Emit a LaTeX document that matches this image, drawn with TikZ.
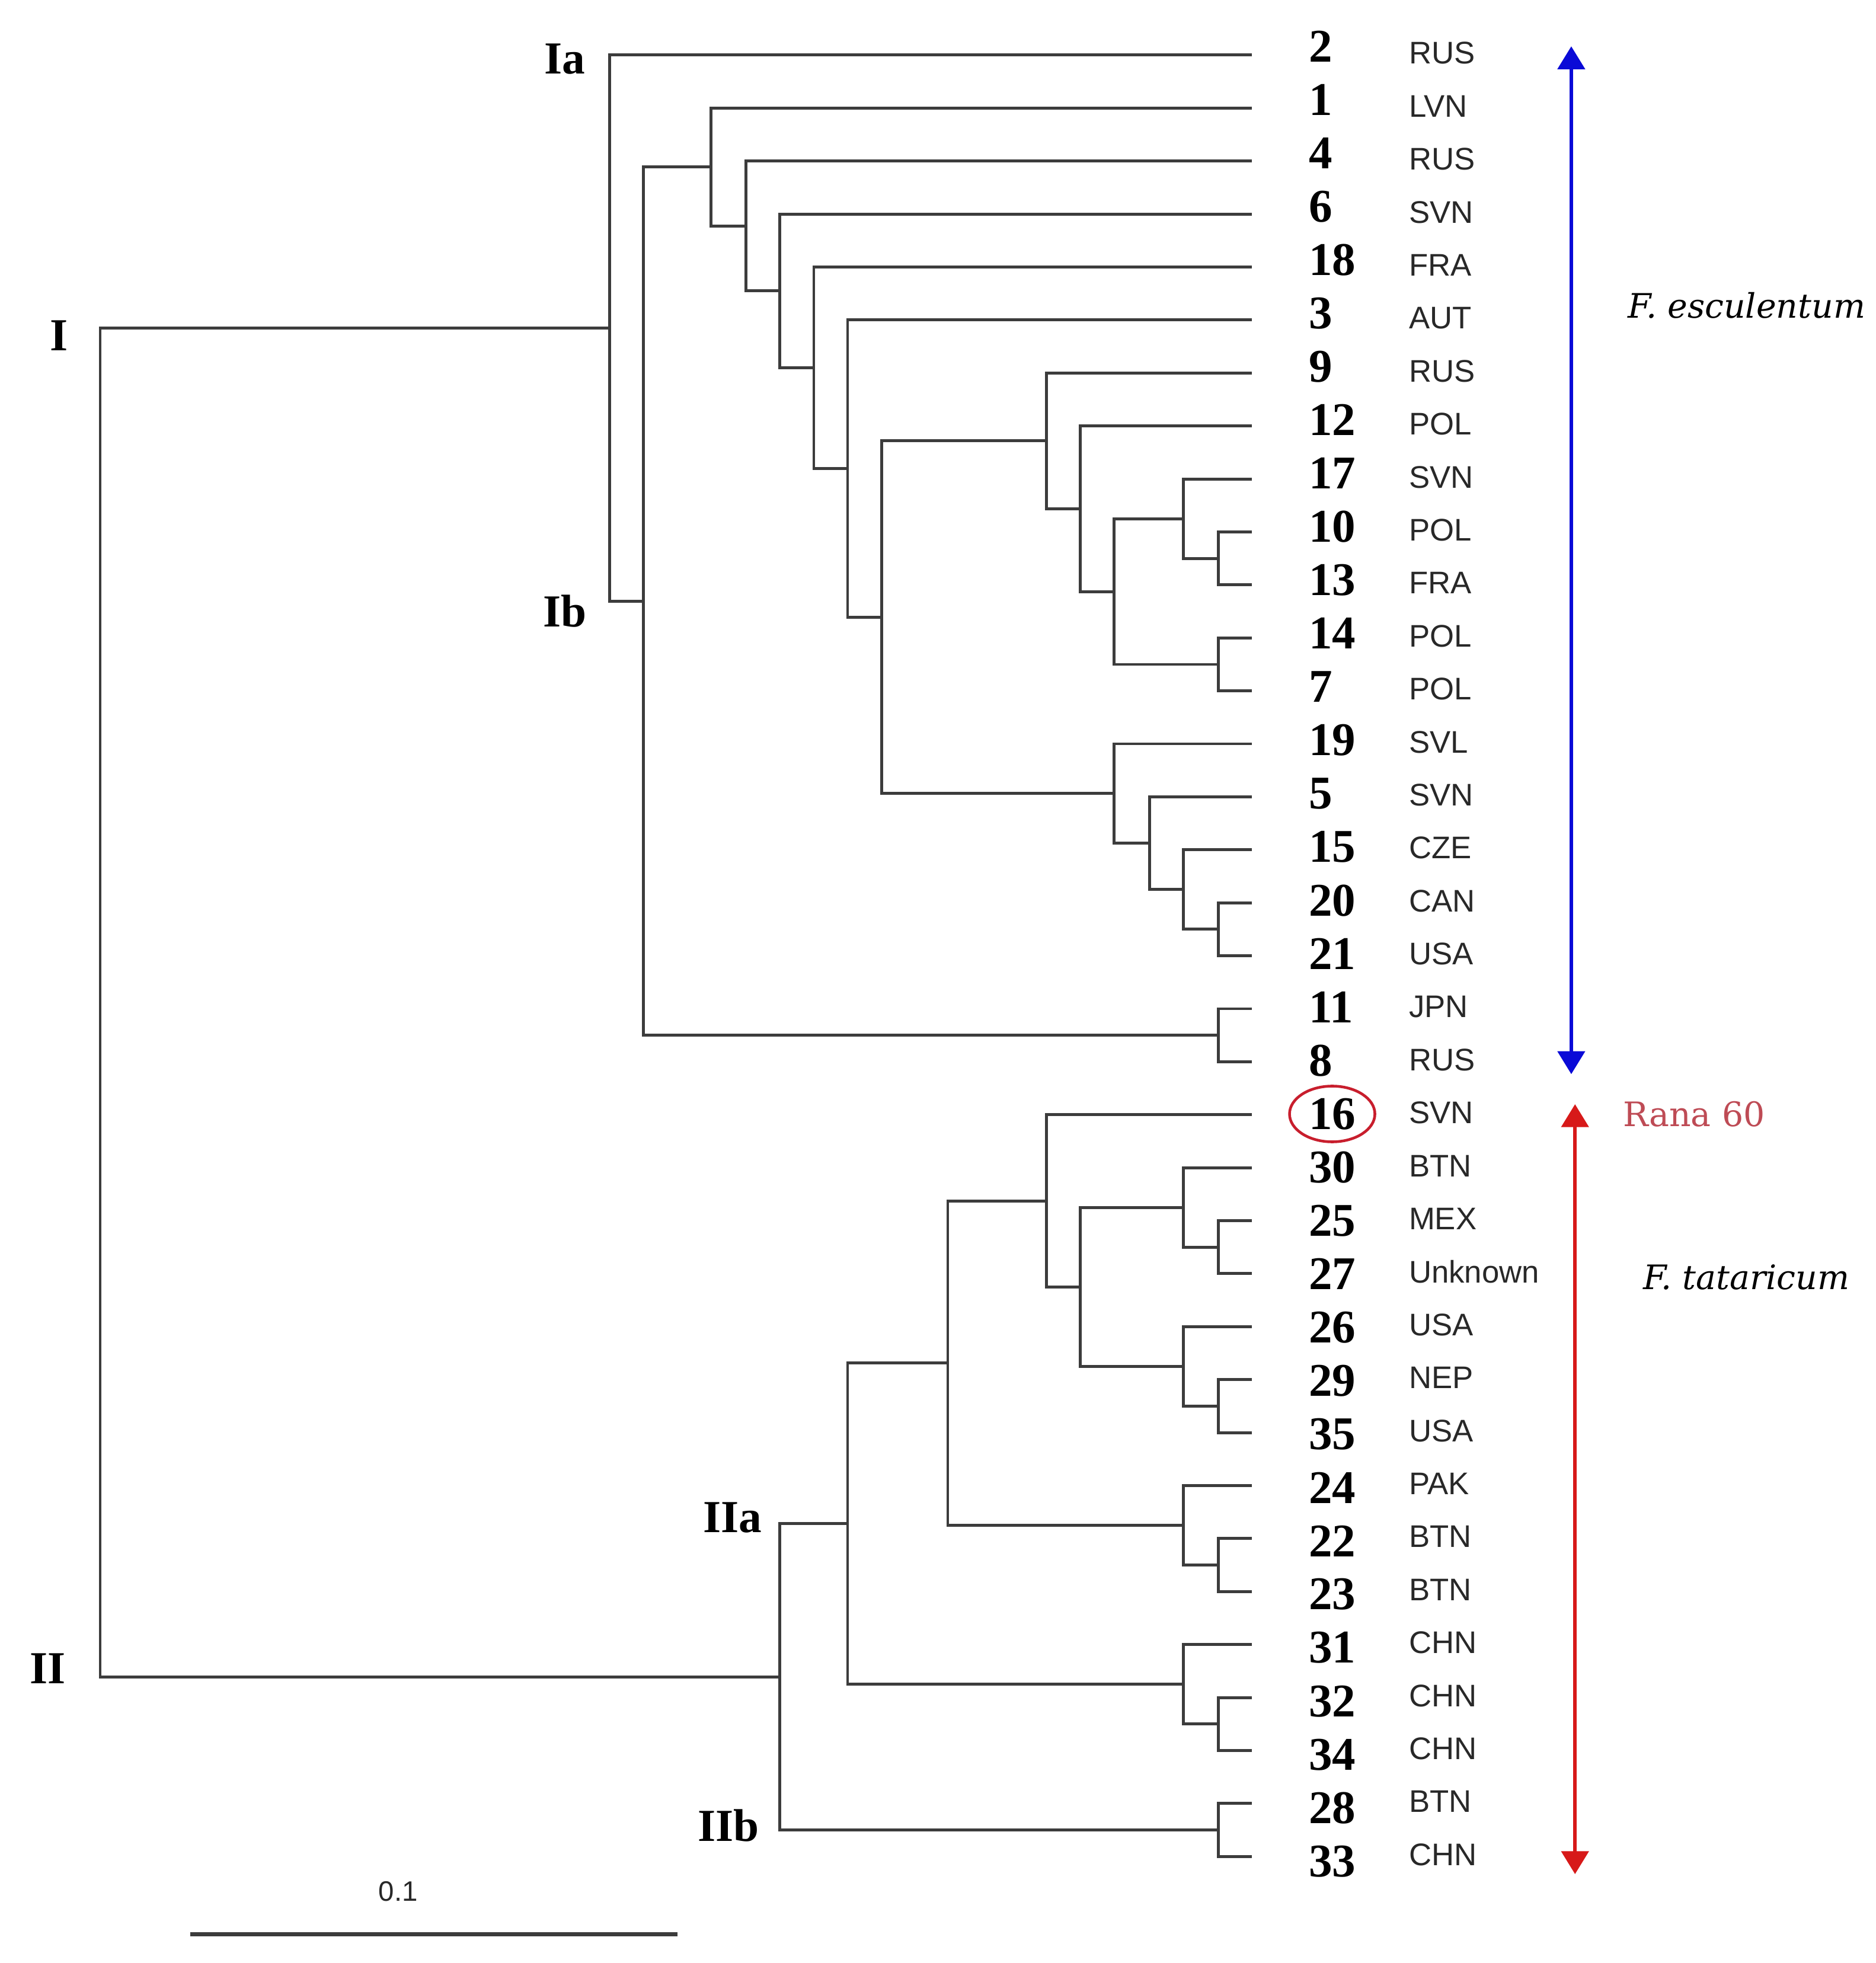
\documentclass[tikz,border=0pt]{standalone}
\usepackage{fontspec}
\setmainfont{Liberation Serif}
\setsansfont{Liberation Sans}
\newfontfamily\slabfont{DejaVu Serif}
\usetikzlibrary{arrows.meta}

\definecolor{treegray}{RGB}{60,60,60}
\definecolor{ctygray}{RGB}{40,40,40}
\definecolor{escblue}{RGB}{10,10,215}
\definecolor{tatred}{RGB}{215,25,25}
\definecolor{ranared}{RGB}{190,75,85}
\definecolor{ringred}{RGB}{200,30,45}

\begin{document}
\begin{tikzpicture}[x=0.2112mm, y=-0.2112mm,
    branch/.style={line width=1.4pt, draw=treegray},
    numlabel/.style={anchor=west, inner sep=0pt, font=\fontsize{22.5}{24}\selectfont\bfseries},
    ctylabel/.style={anchor=west, inner sep=0pt, text=ctygray, font=\sffamily\fontsize{15}{17}\selectfont},
    cladelabel/.style={inner sep=0pt, font=\fontsize{22}{24}\selectfont\bfseries},
    species/.style={anchor=west, inner sep=0pt, font=\slabfont\itshape\fontsize{16.2}{18}\selectfont},
    spanarrow/.style={line width=1.7pt, {Triangle[width=13pt,length=11pt]}-{Triangle[width=13pt,length=11pt]}}]
\useasboundingbox (0,0) rectangle (1498,1568);

% leaves: end of branch, accession and origin
\foreach \num/\cty [count=\i from 0] in {2/RUS, 1/LVN, 4/RUS, 6/SVN, 18/FRA, 3/AUT, 9/RUS, 12/POL,
    17/SVN, 10/POL, 13/FRA, 14/POL, 7/POL, 19/SVL, 5/SVN, 15/CZE, 20/CAN, 21/USA, 11/JPN, 8/RUS,
    16/SVN, 30/BTN, 25/MEX, 27/Unknown, 26/USA, 29/NEP, 35/USA, 24/PAK, 22/BTN, 23/BTN,
    31/CHN, 32/CHN, 34/CHN, 28/BTN, 33/CHN}
{
    \pgfmathsetmacro{\yy}{44+42.32*\i}
    \coordinate (t\num) at (1000,\yy);
    \node[numlabel] (n\num) at (1045,\yy-7+0.32*\i) {\num};
    \node[ctylabel] (c\num) at (1125,\yy-1.5) {\cty};
}

% internal nodes, cluster I
\coordinate (j10) at (973,446);
\coordinate (j17) at (945,414.3);
\coordinate (j14) at (973,530.7);
\coordinate (j1714) at (890,472.5);
\coordinate (j12) at (863,406.4);
\coordinate (j9) at (836,352.1);
\coordinate (j20) at (973,742.3);
\coordinate (j15) at (945,710.5);
\coordinate (j5) at (918,673.5);
\coordinate (j19) at (890,633.8);
\coordinate (j919) at (704,493);
\coordinate (j3) at (677,374.3);
\coordinate (j18) at (650,293.8);
\coordinate (j6) at (623,232.4);
\coordinate (j4) at (596,180.5);
\coordinate (j1) at (568,133.4);
\coordinate (j11) at (973,827);
\coordinate (cIb) at (514,480.2);
\coordinate (cI) at (487,262.1);
% internal nodes, cluster II
\coordinate (j25) at (973,996.2);
\coordinate (j30) at (945,964.5);
\coordinate (j29) at (973,1123.2);
\coordinate (j26) at (945,1091.4);
\coordinate (j3026) at (863,1028);
\coordinate (j16) at (836,959.2);
\coordinate (j22) at (973,1250.1);
\coordinate (j24) at (945,1218.4);
\coordinate (j1624) at (757,1088.8);
\coordinate (j32) at (973,1377);
\coordinate (j31) at (945,1345.3);
\coordinate (cIIa) at (677,1217);
\coordinate (cIIb) at (973,1461.7);
\coordinate (cII) at (623,1339.4);
\coordinate (root) at (80,800.7);

\foreach \p/\a/\b in {j10/t10/t13, j17/t17/j10, j14/t14/t7, j1714/j17/j14, j12/t12/j1714,
    j9/t9/j12, j20/t20/t21, j15/t15/j20, j5/t5/j15, j19/t19/j5, j919/j9/j19, j3/t3/j919,
    j18/t18/j3, j6/t6/j18, j4/t4/j6, j1/t1/j4, j11/t11/t8, cIb/j1/j11, cI/t2/cIb,
    j25/t25/t27, j30/t30/j25, j29/t29/t35, j26/t26/j29, j3026/j30/j26, j16/t16/j3026,
    j22/t22/t23, j24/t24/j22, j1624/j16/j24, j32/t32/t34, j31/t31/j32, cIIa/j1624/j31,
    cIIb/t28/t33, cII/cIIa/cIIb, root/cI/cII}
{
    \draw[branch] (\a) -| (\p) |- (\b);
}

% cluster names
\node[cladelabel] (labI) at (47,268) {I};
\node[cladelabel] (labII) at (38,1333) {II};
\node[cladelabel] (labIa) at (451,47) {Ia};
\node[cladelabel] (labIb) at (451,488) {Ib};
\node[cladelabel] (labIIa) at (585,1212) {IIa};
\node[cladelabel] (labIIb) at (582,1458) {IIb};

% Rana 60
\draw[ringred, line width=1.3pt] (n16.center) ellipse [x radius=7.2mm, y radius=4.7mm];
\node[species, font=\slabfont\fontsize{16.2}{18}\selectfont, text=ranared] (rana) at (1296,890) {Rana 60};

% species ranges
\coordinate (esctop) at (1255,37);
\coordinate (escbot) at (1255,858);
\coordinate (tattop) at (1258,882);
\coordinate (tatbot) at (1258,1497);
\draw[spanarrow, escblue] (esctop) -- (escbot);
\draw[spanarrow, tatred] (tattop) -- (tatbot);
\node[species] (fesc) at (1300,244) {F. esculentum};
\node[species] (ftat) at (1312,1020) {F. tataricum};

% scale bar
\coordinate (sbl) at (152,1545);
\coordinate (sbr) at (541,1545);
\draw[line width=2pt, treegray] (sbl) -- (sbr);
\node[inner sep=0pt, text=ctygray, font=\sffamily\fontsize{13.5}{15}\selectfont] (sblab) at (318,1511) {0.1};
\end{tikzpicture}
\end{document}
